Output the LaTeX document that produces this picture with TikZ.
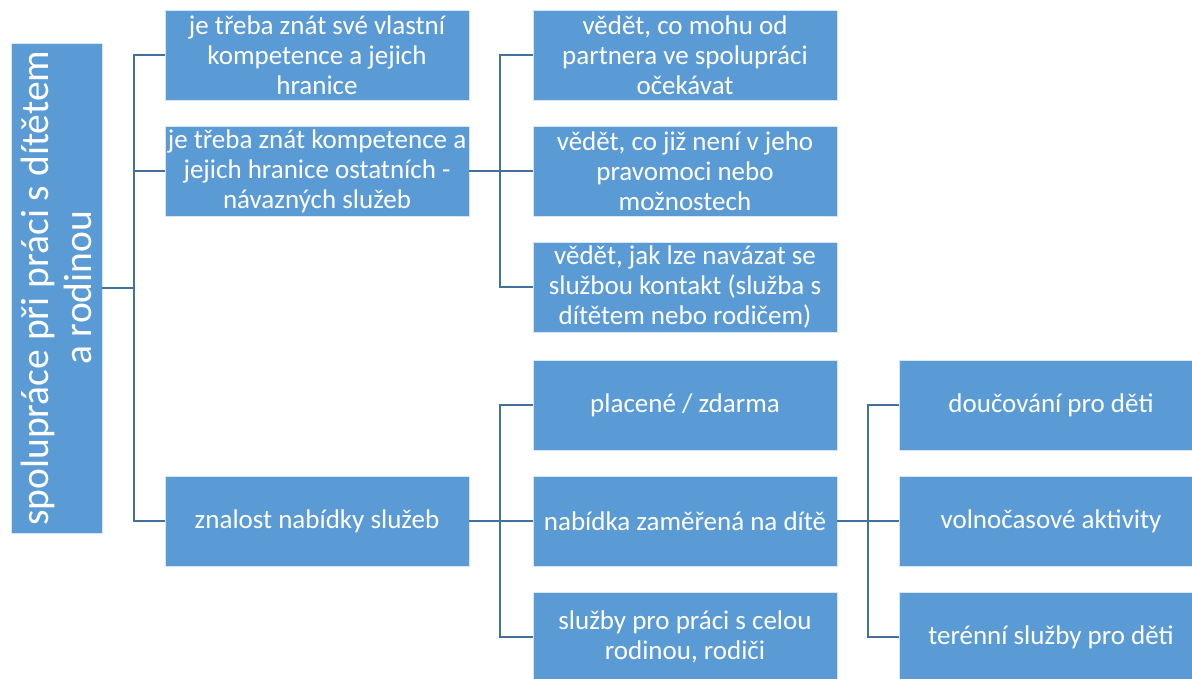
\documentclass[tikz,border=0pt]{standalone}
\usepackage{fontspec}
\setmainfont{Carlito}
\definecolor{boxblue}{HTML}{5B9BD5}
\definecolor{lineblue}{HTML}{41719C}
\tikzset{
  box/.style={fill=boxblue, draw=white!75!boxblue, line width=0.8pt, text=white, align=center,
    minimum width=304pt, minimum height=90pt, inner sep=0pt, font=\fontsize{27}{30}\selectfont},
  rootbox/.style={fill=boxblue, draw=white!75!boxblue, line width=0.8pt, text=white, align=center,
    minimum width=490pt, minimum height=91pt, inner sep=0pt, rotate=90, font=\fontsize{39.5}{43}\selectfont},
  conn/.style={draw=lineblue, line width=1.8pt}
}
\begin{document}
\begin{tikzpicture}[x=1pt,y=-1pt]
\useasboundingbox (0,0) rectangle (1192,679);
\clip (0,0) rectangle (1192,679);
\node[rootbox] (root) at (56.5,288) {spolupráce při práci s dítětem\\a rodinou};
\node[box] (n1) at (317,55) {je třeba znát své vlastní\\kompetence a jejich\\hranice};
\node[box] (n2) at (317,171) {je třeba znát kompetence a\\jejich hranice ostatních -\\návazných služeb};
\node[box] (n3) at (317,521) {znalost nabídky služeb};
\node[box] (m1) at (685,55) {vědět, co mohu od\\partnera ve spolupráci\\očekávat};
\node[box] (m2) at (685,171) {vědět, co již není v jeho\\pravomoci nebo\\možnostech};
\node[box] (m3) at (685,287) {vědět, jak lze navázat se\\službou kontakt (služba s\\dítětem nebo rodičem)};
\node[box] (p1) at (685,405) {placené / zdarma};
\node[box] (p2) at (685,521) {nabídka zaměřená na dítě};
\node[box] (p3) at (685,637) {služby pro práci s celou\\rodinou, rodiči};
\node[box] (q1) at (1051,405) {doučování pro děti};
\node[box] (q2) at (1051,521) {volnočasové aktivity};
\node[box] (q3) at (1051,637) {terénní služby pro děti};
\coordinate (bA) at (134,0);
\coordinate (bB) at (500,0);
\coordinate (bC) at (868,0);
\draw[conn] (root.south) -- (root.south -| bA);
\draw[conn] (n1.west) -- (n1.west -| bA) -- (n3.west -| bA) -- (n3.west);
\draw[conn] (n2.west) -- (n2.west -| bA);
\draw[conn] (n2.east) -- (n2.east -| bB);
\draw[conn] (m1.west) -- (m1.west -| bB) -- (m3.west -| bB) -- (m3.west);
\draw[conn] (m2.west) -- (m2.west -| bB);
\draw[conn] (n3.east) -- (n3.east -| bB);
\draw[conn] (p1.west) -- (p1.west -| bB) -- (p3.west -| bB) -- (p3.west);
\draw[conn] (p2.west) -- (p2.west -| bB);
\draw[conn] (p2.east) -- (p2.east -| bC);
\draw[conn] (q1.west) -- (q1.west -| bC) -- (q3.west -| bC) -- (q3.west);
\draw[conn] (q2.west) -- (q2.west -| bC);
\end{tikzpicture}
\end{document}
